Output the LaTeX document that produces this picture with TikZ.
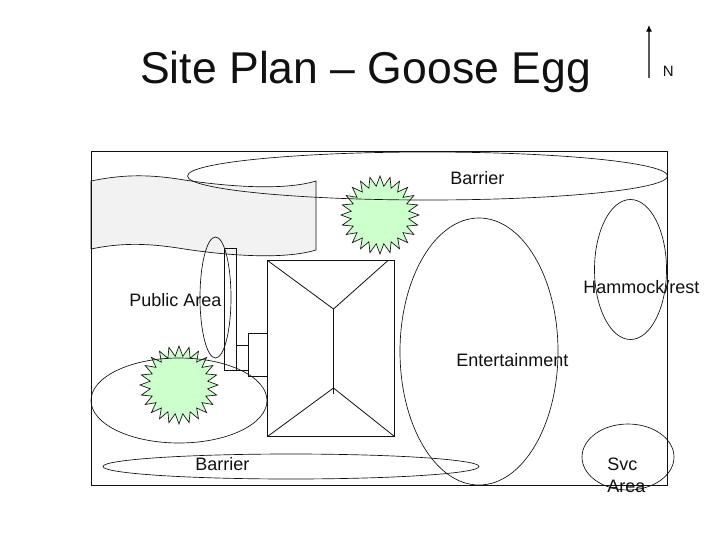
\documentclass[tikz,border=0pt]{standalone}
\usepackage{fontspec}
\usetikzlibrary{arrows.meta}
\setmainfont{Liberation Sans}
\definecolor{inkc}{HTML}{111111}
\definecolor{starg}{HTML}{CCFFCC}
\definecolor{bang}{HTML}{F2F2F2}
\tikzset{
  shape line/.style={draw=inkc,line width=0.6pt},
  thin oval/.style={draw=inkc,line width=0.5pt},
  lbl/.style={anchor=base west,inner sep=0pt,text=inkc,font=\fontsize{13.5}{16}\selectfont},
  startshape/.style={draw=inkc,line width=0.5pt,fill=starg,line join=miter},
  ridge/.style={draw=inkc,line width=0.6pt}
}
\newcommand{\spikystar}[2]{%
  \draw[startshape] plot[samples=48,domain=0:47,variable=\t]
    ({#1+(34+5*cos(\t*180))*cos(\t*7.5+90)},{#2+(34+5*cos(\t*180))*sin(\t*7.5+90)}) -- cycle;}
\begin{document}
\begin{tikzpicture}[x=0.75pt,y=-0.75pt]
\useasboundingbox[fill=white] (0,0) rectangle (728,546);
% banner
\draw[thin oval,fill=bang] (91,181) .. controls (120,175) and (145,174) .. (178,179)
  .. controls (215,185) and (280,192) .. (316,181) -- (316,250)
  .. controls (280,261) and (215,254) .. (178,248)
  .. controls (145,243) and (120,243) .. (91,249) -- cycle;
% stars
\spikystar{380}{215}
\spikystar{179}{385}
% frame
\draw[shape line] (91.5,151.5) rectangle (667,485);
% porch rectangles (shared edges drawn once)
\draw[shape line] (224.5,248) rectangle (236.5,370);
\draw[shape line] (236.5,345) -- (248.5,345);
\draw[shape line] (236.5,370) -- (248.5,370);
\draw[shape line] (267.5,333) -- (248.5,333) -- (248.5,376.5) -- (267.5,376.5);
% house
\draw[shape line] (267.5,260.5) rectangle (394.5,436.5);
\coordinate (rt) at (333.5,309);
\coordinate (rb) at (333.5,388);
\draw[ridge] (267.5,260.5) -- (rt) -- (388,260.5);
\draw[ridge] (rt) -- (333.5,394);
\draw[ridge] (267.5,436.5) -- (rb) -- (394.5,436.5);
% ovals
\draw[thin oval] (427.5,176) ellipse [x radius=240,y radius=24];
\draw[thin oval] (215.5,297.5) ellipse [x radius=15.5,y radius=60.5];
\draw[thin oval] (179,400.5) ellipse [x radius=88,y radius=42.5];
\draw[thin oval] (291,466.5) ellipse [x radius=188,y radius=12.5];
\draw[thin oval] (479,351.5) ellipse [x radius=79,y radius=133.5];
\draw[thin oval] (630.5,269.5) ellipse [x radius=36,y radius=70];
\draw[thin oval] (628,457) ellipse [x radius=46,y radius=33];
% north arrow
\coordinate (ns) at (649,78);
\coordinate (ne) at (649,25);
\draw[draw=inkc!70,line width=0.8pt,-{Latex[length=5pt,width=4.5pt,black]}] (ns) -- (ne);
% text
\node[lbl,font=\fontsize{33.4}{38}\selectfont] (title) at (140,83) {Site Plan – Goose Egg};
\node[lbl,font=\fontsize{11.25}{13}\selectfont] (north) at (662.5,76) {N};
\node[lbl] (b1) at (450,184) {Barrier};
\node[lbl] (b2) at (195,470) {Barrier};
\node[lbl] (pa) at (129,306) {Public Area};
\node[lbl] (en) at (456,366) {Entertainment};
\node[lbl] (ha) at (583,293) {Hammock/rest};
\node[lbl] (sv) at (607,470) {Svc};
\node[lbl] (ar) at (607,492) {Area};
\end{tikzpicture}
\end{document}
